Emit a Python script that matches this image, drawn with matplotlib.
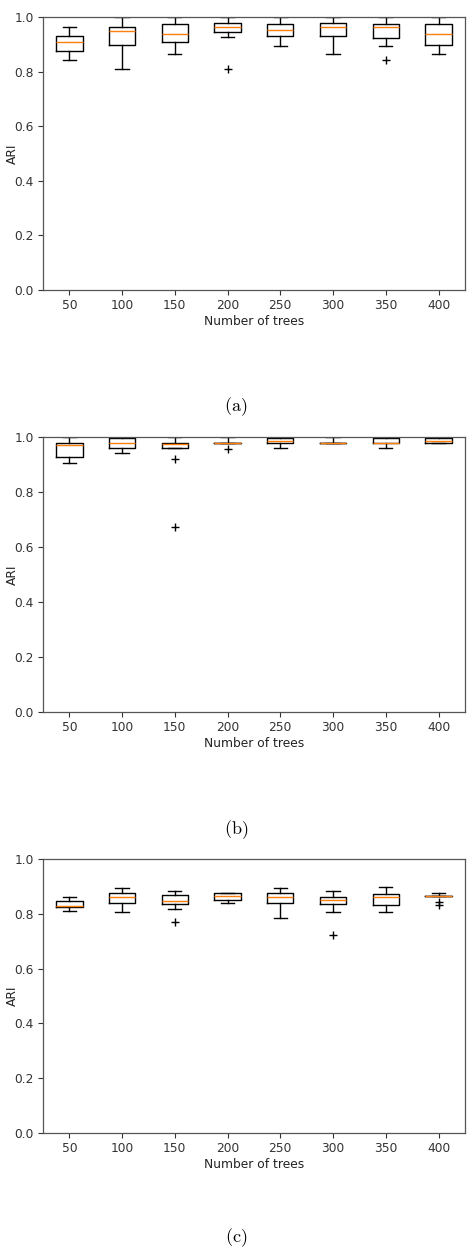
import matplotlib
matplotlib.use("Agg")
import matplotlib.pyplot as plt

plt.rcParams['mathtext.fontset'] = 'cm'

# x tick labels: number of trees
trees = [50, 100, 150, 200, 250, 300, 350, 400]

# panel (a): whislo, q1, median, q3, whishi, fliers
a_whislo = [0.841, 0.811, 0.863, 0.926, 0.894, 0.863, 0.894, 0.863]
a_q1 = [0.874, 0.899, 0.907, 0.944, 0.930, 0.930, 0.924, 0.899]
a_med = [0.907, 0.947, 0.936, 0.965, 0.953, 0.965, 0.962, 0.936]
a_q3 = [0.930, 0.962, 0.973, 0.979, 0.976, 0.979, 0.976, 0.973]
a_whishi = [0.962, 1.0, 1.0, 1.0, 1.0, 1.0, 1.0, 1.0]
a_fliers = [[], [], [], [0.811], [], [], [0.841], []]

# panel (b)
b_whislo = [0.904, 0.941, 0.959, 0.977, 0.959, 0.977, 0.959, 0.977]
b_q1 = [0.928, 0.959, 0.960, 0.977, 0.977, 0.977, 0.977, 0.977]
b_med = [0.972, 0.978, 0.975, 0.977, 0.985, 0.977, 0.977, 0.985]
b_q3 = [0.979, 0.998, 0.979, 0.977, 0.996, 0.977, 0.996, 0.998]
b_whishi = [1.0, 1.0, 1.0, 1.0, 1.0, 1.0, 1.0, 1.0]
b_fliers = [[], [], [0.921, 0.674], [0.958], [], [], [], []]

# panel (c)
c_whislo = [0.811, 0.805, 0.818, 0.841, 0.786, 0.808, 0.805, 0.864]
c_q1 = [0.824, 0.841, 0.836, 0.850, 0.841, 0.836, 0.832, 0.864]
c_med = [0.828, 0.860, 0.848, 0.866, 0.862, 0.850, 0.860, 0.865]
c_q3 = [0.847, 0.875, 0.869, 0.877, 0.875, 0.862, 0.872, 0.866]
c_whishi = [0.862, 0.893, 0.883, 0.877, 0.893, 0.883, 0.899, 0.875]
c_fliers = [[], [], [0.769], [], [], [0.723], [], [0.842, 0.831]]

panels = [
    ("(a)", a_whislo, a_q1, a_med, a_q3, a_whishi, a_fliers),
    ("(b)", b_whislo, b_q1, b_med, b_q3, b_whishi, b_fliers),
    ("(c)", c_whislo, c_q1, c_med, c_q3, c_whishi, c_fliers),
]

# axes rectangles [left, bottom, width, height] and caption y positions
rects = [[0.091, 0.768, 0.894, 0.2184],
         [0.091, 0.4304, 0.894, 0.22],
         [0.091, 0.0936, 0.894, 0.2192]]
caption_y = [0.6744, 0.336, 0.0096]

fig = plt.figure(figsize=(4.72, 12.5), dpi=100)

for (name, wlo, q1, med, q3, whi, fl), rect, cy in zip(panels, rects, caption_y):
    ax = fig.add_axes(rect)
    stats = []
    for i in range(len(trees)):
        stats.append({'whislo': wlo[i], 'q1': q1[i], 'med': med[i],
                      'q3': q3[i], 'whishi': whi[i], 'fliers': fl[i]})
    ax.bxp(stats, positions=range(1, len(trees) + 1), widths=0.5,
           flierprops=dict(marker='+', markeredgecolor='black', markersize=6),
           boxprops=dict(linewidth=1.0),
           whiskerprops=dict(linewidth=1.0),
           capprops=dict(linewidth=1.0),
           medianprops=dict(color='#ff7f0e', linewidth=1.0))
    ax.set_xlim(0.5, len(trees) + 0.5)
    ax.set_ylim(0, 1.0)
    ax.set_yticks([0.0, 0.2, 0.4, 0.6, 0.8, 1.0])
    ax.set_xticks(range(1, len(trees) + 1))
    ax.set_xticklabels([str(t) for t in trees])
    ax.tick_params(labelsize=8.8, colors='#333333', length=3.5, width=0.8, pad=3)
    for s in ax.spines.values():
        s.set_color('#555555')
        s.set_linewidth(0.9)
    ax.set_xlabel('Number of trees', fontsize=8.8, color='#222222', labelpad=2)
    ax.set_ylabel('ARI', fontsize=8.8, color='#222222')
    ax.yaxis.set_label_coords(-0.058, 0.5)
    fig.text(0.5, cy, r'$\mathrm{' + name + '}$', ha='center', va='center',
             fontsize=13)

fig.savefig('out.png', dpi=100)
